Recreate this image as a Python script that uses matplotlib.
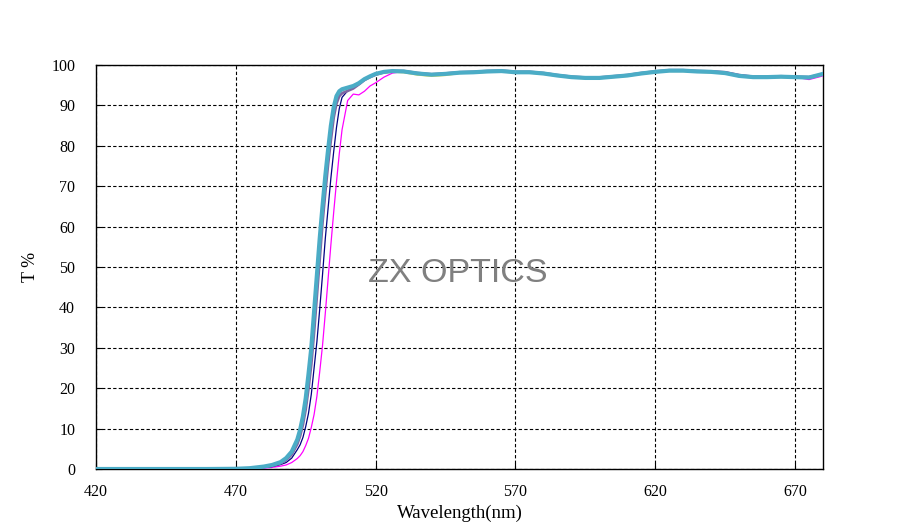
import matplotlib
matplotlib.use("Agg")
import matplotlib.pyplot as plt

wavelength = [420, 460, 470, 475, 480, 483, 486, 488, 490, 492, 493, 494, 495, 496, 497, 498, 499,
              500, 501, 502, 503, 504, 505, 506, 507, 508, 510, 512, 514, 516, 518, 520, 523, 526,
              530, 535, 540, 545, 550, 555, 560, 565, 570, 575, 580, 585, 590, 595, 600, 605, 610,
              615, 620, 625, 630, 635, 640, 645, 650, 655, 660, 665, 670, 675, 680]

t_teal = [0, 0, 0.05, 0.2, 0.6, 1.0, 1.7, 2.7, 4.3, 7.3, 9.7, 13, 17.5, 23.5, 30, 39, 48,
          57, 65, 72.5, 79, 85, 89.5, 92.3, 93.5, 94, 94.4, 94.8, 95.5, 96.5, 97.2, 97.8, 98.3, 98.5,
          98.4, 97.9, 97.6, 97.8, 98.1, 98.2, 98.4, 98.5, 98.2, 98.2, 97.9, 97.4, 97.0, 96.8, 96.8, 97.1, 97.4,
          97.9, 98.3, 98.6, 98.6, 98.4, 98.3, 98.0, 97.3, 97.0, 97.0, 97.1, 97.0, 96.9, 97.8]

t_purple = [0, 0, 0.04, 0.15, 0.5, 0.85, 1.4, 2.2, 3.6, 6.2, 8.2, 11, 14.8, 20, 26, 34, 43,
            52, 61, 68.5, 75.5, 81.5, 87, 90.5, 92.3, 93, 93.6, 94.2, 95.2, 96.3, 97, 97.6, 98.2, 98.5,
            98.5, 98.0, 97.7, 97.9, 98.2, 98.3, 98.5, 98.6, 98.3, 98.3, 98.0, 97.5, 97.1, 96.9, 96.9, 97.2, 97.5,
            98.0, 98.4, 98.7, 98.7, 98.5, 98.4, 98.2, 97.5, 97.1, 97.1, 97.2, 97.1, 97.0, 97.7]

t_yellow = [0, 0, 0.05, 0.18, 0.55, 0.95, 1.6, 2.5, 4.0, 6.8, 9.0, 12.2, 16.3, 22, 28.5, 37, 46,
            55, 63.5, 71, 77.5, 83.5, 88.5, 91.8, 93.2, 93.8, 94.2, 94.7, 95.4, 96.4, 97.1, 97.7, 98.1, 98.3,
            98.2, 97.6, 97.3, 97.5, 98.0, 98.1, 98.3, 98.4, 98.1, 98.1, 97.8, 97.3, 96.9, 96.7, 96.7, 97.0, 97.3,
            97.8, 98.2, 98.5, 98.5, 98.3, 98.2, 97.9, 97.2, 96.9, 96.9, 97.0, 96.9, 96.8, 97.6]

t_navy = [0, 0, 0.03, 0.1, 0.35, 0.6, 1.1, 1.6, 2.7, 4.8, 6.0, 7.8, 10.5, 13.8, 18.5, 25, 31.5,
          39.5, 48, 57, 64.5, 72, 78.5, 84.5, 89.2, 92, 93.6, 94.3, 95.2, 96.2, 97, 97.6, 98.2, 98.5,
          98.4, 97.9, 97.6, 97.8, 98.1, 98.2, 98.4, 98.5, 98.2, 98.2, 97.9, 97.4, 97.0, 96.8, 96.8, 97.1, 97.4,
          97.9, 98.3, 98.6, 98.6, 98.4, 98.3, 98.0, 97.3, 97.0, 97.0, 97.1, 97.0, 96.8, 97.6]

t_magenta = [0, 0, 0.02, 0.05, 0.2, 0.4, 0.7, 1.0, 1.6, 2.6, 3.3, 4.3, 5.8, 7.6, 10.3, 13.5, 18,
             24, 30.5, 38.5, 47, 55.5, 63.5, 71, 78, 84, 91.2, 92.8, 92.6, 93.5, 94.8, 95.6, 97, 98,
             98.4, 98.0, 97.7, 97.9, 98.2, 98.3, 98.5, 98.6, 98.3, 98.3, 98.0, 97.5, 97.1, 96.9, 96.9, 97.2, 97.5,
             98.0, 98.4, 98.7, 98.7, 98.6, 98.5, 98.3, 97.6, 97.2, 97.1, 97.2, 97.0, 96.4, 97.3]

x_ticks = [420, 470, 520, 570, 620, 670]
y_ticks = [0, 10, 20, 30, 40, 50, 60, 70, 80, 90, 100]

fig = plt.figure(figsize=(9.08, 5.28), dpi=100)
ax = fig.add_axes([96/908, 59/528, 727/908, 404/528])

tick_font = "Liberation Serif"

ax.plot(wavelength, t_magenta, color="#FF00FF", lw=0.9, zorder=3)
ax.plot(wavelength, t_navy, color="#000080", lw=0.9, zorder=3)
ax.plot(wavelength, t_yellow, color="#E8E040", lw=1.5, zorder=3)
ax.plot(wavelength, t_purple, color="#8064A2", lw=2.0, zorder=4)
ax.plot(wavelength, t_teal, color="#4BACC6", lw=3.0, zorder=5)

ax.set_xlim(420, 680)
ax.set_ylim(0, 100)
ax.set_xticks(x_ticks)
ax.set_yticks(y_ticks)
ax.grid(True, color="black", linestyle=(0, (3, 2)), linewidth=0.8)
for s in ax.spines.values():
    s.set_color("black")
    s.set_linewidth(1.0)
ax.tick_params(direction="in", length=4, color="black", labelsize=11.5)
ax.tick_params(axis="x", pad=11)
ax.tick_params(axis="y", pad=15)
for lab in ax.get_xticklabels() + ax.get_yticklabels():
    lab.set_fontfamily(tick_font)

ax.set_xlabel("Wavelength(nm)", fontfamily=tick_font, fontsize=13.5, labelpad=3)
ax.set_ylabel("T %", fontfamily=tick_font, fontsize=13, labelpad=9)

ax.text(549.5, 48.5, "ZX OPTICS", fontfamily="Liberation Sans", fontsize=24.5, color="#808080",
        ha="center", va="center", zorder=6)

fig.savefig("out.png", dpi=100)
